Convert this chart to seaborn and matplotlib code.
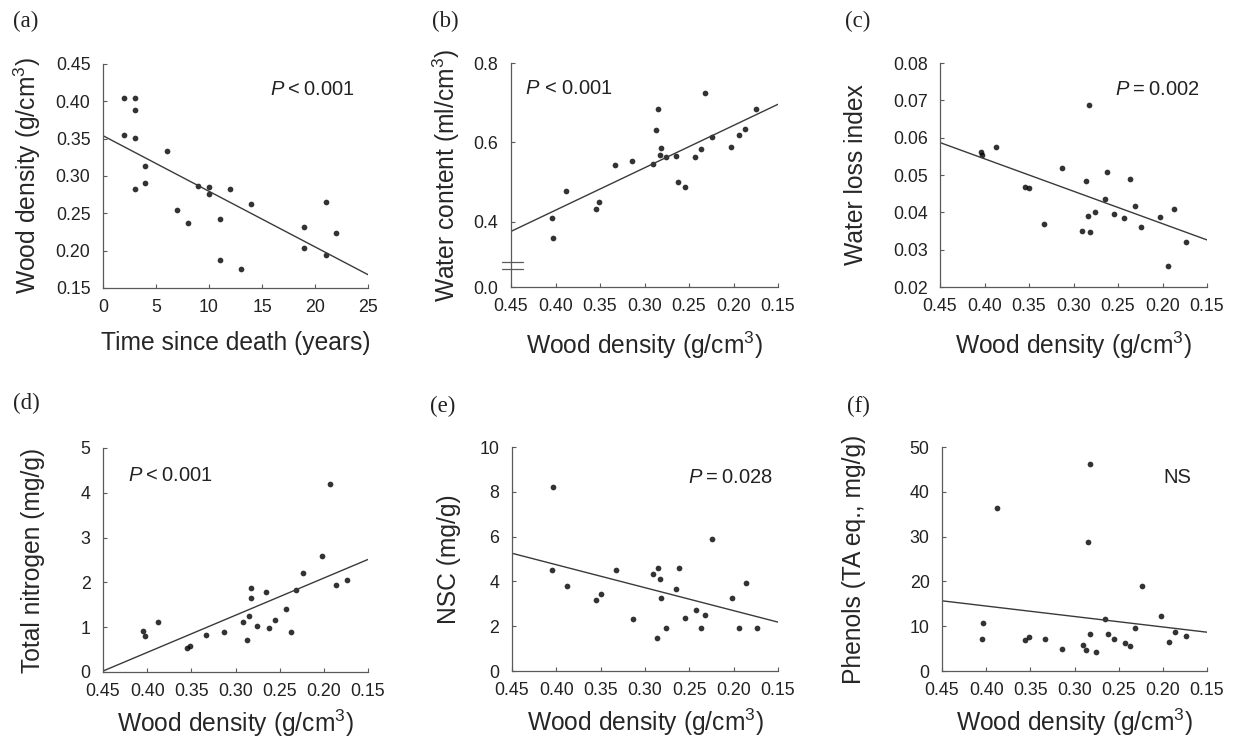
import numpy as np
import pandas as pd
import matplotlib
matplotlib.use("Agg")
import matplotlib.pyplot as plt
import seaborn as sns

# ---- data ----
# (a) wood density vs time since death
a_years = [2, 3, 3, 2, 3, 4, 4, 3, 6, 9, 10, 10, 12, 7, 8, 11, 14, 11, 13, 19, 19, 21, 21, 22]
a_density = [0.404, 0.404, 0.388, 0.355, 0.351, 0.314, 0.291, 0.283, 0.333, 0.287, 0.285, 0.276,
             0.283, 0.255, 0.237, 0.243, 0.262, 0.187, 0.175, 0.232, 0.203, 0.265, 0.194, 0.224]

# (b) water content vs wood density
b_density = [0.404, 0.403, 0.388, 0.355, 0.351, 0.333, 0.314, 0.291, 0.287, 0.285, 0.282, 0.283,
             0.276, 0.265, 0.262, 0.255, 0.243, 0.237, 0.232, 0.224, 0.203, 0.194, 0.187, 0.175]
b_water = [0.408, 0.358, 0.476, 0.433, 0.450, 0.542, 0.553, 0.544, 0.630, 0.683, 0.586, 0.569,
           0.562, 0.566, 0.500, 0.487, 0.562, 0.583, 0.725, 0.613, 0.589, 0.619, 0.634, 0.685]

# (c) water loss index vs wood density
c_density = [0.404, 0.403, 0.387, 0.354, 0.350, 0.333, 0.313, 0.290, 0.286, 0.284, 0.283, 0.282,
             0.276, 0.265, 0.262, 0.255, 0.243, 0.237, 0.231, 0.224, 0.203, 0.194, 0.187, 0.174]
c_loss = [0.0562, 0.0554, 0.0574, 0.0467, 0.0465, 0.0368, 0.0519, 0.0350, 0.0485, 0.0391, 0.0688, 0.0348,
          0.0401, 0.0436, 0.0509, 0.0396, 0.0384, 0.0488, 0.0416, 0.0362, 0.0388, 0.0257, 0.0410, 0.0321]

# (d) total nitrogen vs wood density
d_density = [0.405, 0.403, 0.388, 0.355, 0.351, 0.333, 0.313, 0.291, 0.287, 0.285, 0.282, 0.283,
             0.276, 0.265, 0.262, 0.255, 0.243, 0.237, 0.232, 0.224, 0.202, 0.193, 0.186, 0.174]
d_nitrogen = [0.91, 0.80, 1.11, 0.54, 0.57, 0.82, 0.90, 1.11, 0.72, 1.25, 1.88, 1.66,
              1.03, 1.79, 0.98, 1.15, 1.41, 0.90, 1.82, 2.20, 2.59, 4.20, 1.95, 2.06]

# (e) NSC vs wood density
e_density = [0.404, 0.405, 0.388, 0.355, 0.350, 0.333, 0.314, 0.291, 0.287, 0.285, 0.283, 0.282,
             0.276, 0.265, 0.262, 0.255, 0.243, 0.237, 0.232, 0.224, 0.202, 0.194, 0.186, 0.174]
e_nsc = [8.20, 4.52, 3.80, 3.18, 3.42, 4.50, 2.33, 4.32, 1.49, 4.62, 4.12, 3.24,
         1.93, 3.66, 4.61, 2.38, 2.73, 1.93, 2.51, 5.91, 3.27, 1.90, 3.94, 1.90]

# (f) phenols vs wood density
f_density = [0.404, 0.405, 0.388, 0.356, 0.351, 0.333, 0.314, 0.290, 0.287, 0.283, 0.285, 0.282,
             0.276, 0.265, 0.262, 0.255, 0.243, 0.237, 0.232, 0.224, 0.202, 0.193, 0.186, 0.174]
f_phenols = [10.7, 7.1, 36.3, 6.9, 7.5, 7.1, 4.9, 5.9, 4.7, 46.2, 28.8, 8.2,
             4.2, 11.5, 8.2, 7.1, 6.2, 5.5, 9.6, 18.9, 12.3, 6.5, 8.7, 7.9]

density_ticks = [0.45, 0.40, 0.35, 0.30, 0.25, 0.20, 0.15]
density_labels = ["0.45", "0.40", "0.35", "0.30", "0.25", "0.20", "0.15"]

# ---- style ----
sns.set_style("ticks")
plt.rcParams["font.family"] = ["Liberation Sans", "DejaVu Sans"]
plt.rcParams["mathtext.fontset"] = "custom"
plt.rcParams["mathtext.rm"] = "Liberation Sans"
plt.rcParams["mathtext.it"] = "Liberation Sans:italic"
plt.rcParams["text.color"] = "#222222"

W, H = 1235, 742
fig = plt.figure(figsize=(W / 100, H / 100), dpi=100)
fig.patch.set_facecolor("white")

TS = "\u2009"  # thin space used in the P labels


def make_ax(x0, x1, y0, y1):
    return fig.add_axes([x0 / W, 1 - y1 / H, (x1 - x0) / W, (y1 - y0) / H])


def style(ax):
    sns.despine(ax=ax)
    for s in ["left", "bottom"]:
        ax.spines[s].set_color("#5a5a5a")
        ax.spines[s].set_linewidth(0.9)
    ax.tick_params(direction="in", length=3, width=0.8, color="#5a5a5a",
                   labelsize=12.8, labelcolor="#222222")
    ax.tick_params(axis="x", pad=8)
    ax.tick_params(axis="y", pad=9)


def panel(ax, x, y, xlim, ylim):
    ax.set_xlim(*xlim)
    ax.set_ylim(*ylim)
    df = pd.DataFrame({"x": x, "y": y})
    sns.regplot(data=df, x="x", y="y", ax=ax, ci=None, truncate=False,
                scatter_kws={"s": 17, "color": "black", "linewidths": 0},
                line_kws={"color": "#3a3a3a", "lw": 1.0})
    ax.set_xlim(*xlim)
    ax.set_ylim(*ylim)
    style(ax)


lab_font = 17.7
p_font = 14.5
xlab_density = "Wood density (g/cm$^3$)"

# (a)
ax = make_ax(103, 368, 64, 288)
panel(ax, a_years, a_density, (0, 25), (0.15, 0.45))
ax.set_xticks([0, 5, 10, 15, 20, 25])
ax.set_yticks([0.15, 0.20, 0.25, 0.30, 0.35, 0.40, 0.45])
ax.set_yticklabels(["0.15", "0.20", "0.25", "0.30", "0.35", "0.40", "0.45"])
ax.set_xlabel("Time since death (years)", fontsize=lab_font)
ax.set_ylabel("Wood density (g/cm$^3$)", fontsize=lab_font)
ax.xaxis.set_label_coords(0.5, -0.19)
ax.yaxis.set_label_coords(-0.225, 0.5)
ax.text(0.63, 0.884, "$P$" + TS + "<" + TS + "0.001", transform=ax.transAxes,
        fontsize=p_font, va="center")

# (b)  broken y axis: bottom tick shows 0.0
ax = make_ax(511, 778, 63, 287)
panel(ax, b_density, b_water, (0.45, 0.15), (0.235, 0.8))
ax.set_xticks(density_ticks)
ax.set_xticklabels(density_labels)
ax.set_yticks([0.235, 0.4, 0.6, 0.8])
ax.set_yticklabels(["0.0", "0.4", "0.6", "0.8"])
ax.set_xlabel(xlab_density, fontsize=lab_font)
ax.set_ylabel("Water content (ml/cm$^3$)", fontsize=lab_font)
ax.xaxis.set_label_coords(0.5, -0.19)
ax.yaxis.set_label_coords(-0.185, 0.5)
ax.text(0.052, 0.884, "$P$ < 0.001", transform=ax.transAxes, fontsize=p_font, va="center")
for yb in (0.112, 0.080):
    ax.plot([-0.034, 0.045], [yb, yb], transform=ax.transAxes, color="#5a5a5a",
            lw=0.9, clip_on=False)

# (c)
ax = make_ax(940, 1207, 63, 287)
panel(ax, c_density, c_loss, (0.45, 0.15), (0.02, 0.08))
ax.set_xticks(density_ticks)
ax.set_xticklabels(density_labels)
ax.set_yticks([0.02, 0.03, 0.04, 0.05, 0.06, 0.07, 0.08])
ax.set_yticklabels(["0.02", "0.03", "0.04", "0.05", "0.06", "0.07", "0.08"])
ax.set_xlabel(xlab_density, fontsize=lab_font)
ax.set_ylabel("Water loss index", fontsize=lab_font)
ax.xaxis.set_label_coords(0.5, -0.19)
ax.yaxis.set_label_coords(-0.27, 0.5)
ax.text(0.655, 0.88, "$P$" + TS + "=" + TS + "0.002", transform=ax.transAxes,
        fontsize=p_font, va="center")

# (d)
ax = make_ax(103, 368, 448, 672)
panel(ax, d_density, d_nitrogen, (0.45, 0.15), (0, 5))
ax.set_xticks(density_ticks)
ax.set_xticklabels(density_labels)
ax.set_yticks([0, 1, 2, 3, 4, 5])
ax.set_xlabel(xlab_density, fontsize=lab_font)
ax.set_ylabel("Total nitrogen (mg/g)", fontsize=lab_font)
ax.xaxis.set_label_coords(0.5, -0.16)
ax.yaxis.set_label_coords(-0.22, 0.5)
ax.text(0.094, 0.879, "$P$" + TS + "<" + TS + "0.001", transform=ax.transAxes,
        fontsize=p_font, va="center")

# (e)
ax = make_ax(512, 778, 447, 671)
panel(ax, e_density, e_nsc, (0.45, 0.15), (0, 10))
ax.set_xticks(density_ticks)
ax.set_xticklabels(density_labels)
ax.set_yticks([0, 2, 4, 6, 8, 10])
ax.set_xlabel(xlab_density, fontsize=lab_font)
ax.set_ylabel("NSC (mg/g)", fontsize=lab_font)
ax.xaxis.set_label_coords(0.5, -0.16)
ax.yaxis.set_label_coords(-0.19, 0.5)
ax.text(0.66, 0.862, "$P$" + TS + "=" + TS + "0.028", transform=ax.transAxes,
        fontsize=p_font, va="center")

# (f)
ax = make_ax(942, 1207, 447, 671)
panel(ax, f_density, f_phenols, (0.45, 0.15), (0, 50))
ax.set_xticks(density_ticks)
ax.set_xticklabels(density_labels)
ax.set_yticks([0, 10, 20, 30, 40, 50])
ax.set_xlabel(xlab_density, fontsize=lab_font)
ax.set_ylabel("Phenols (TA eq., mg/g)", fontsize=lab_font)
ax.xaxis.set_label_coords(0.5, -0.16)
ax.yaxis.set_label_coords(-0.285, 0.5)
ax.text(0.834, 0.866, "NS", transform=ax.transAxes, fontsize=p_font, va="center")

# panel letters
letters = ["(a)", "(b)", "(c)", "(d)", "(e)", "(f)"]
letter_x = [13, 432, 845, 13, 430, 847]
letter_y = [21, 21, 21, 403, 406, 406]
for lt, lx, ly in zip(letters, letter_x, letter_y):
    fig.text(lx / W, 1 - ly / H, lt, fontsize=16.5, family="Liberation Serif",
             va="center", ha="left", color="#222222")

fig.savefig("out.png", dpi=100)
